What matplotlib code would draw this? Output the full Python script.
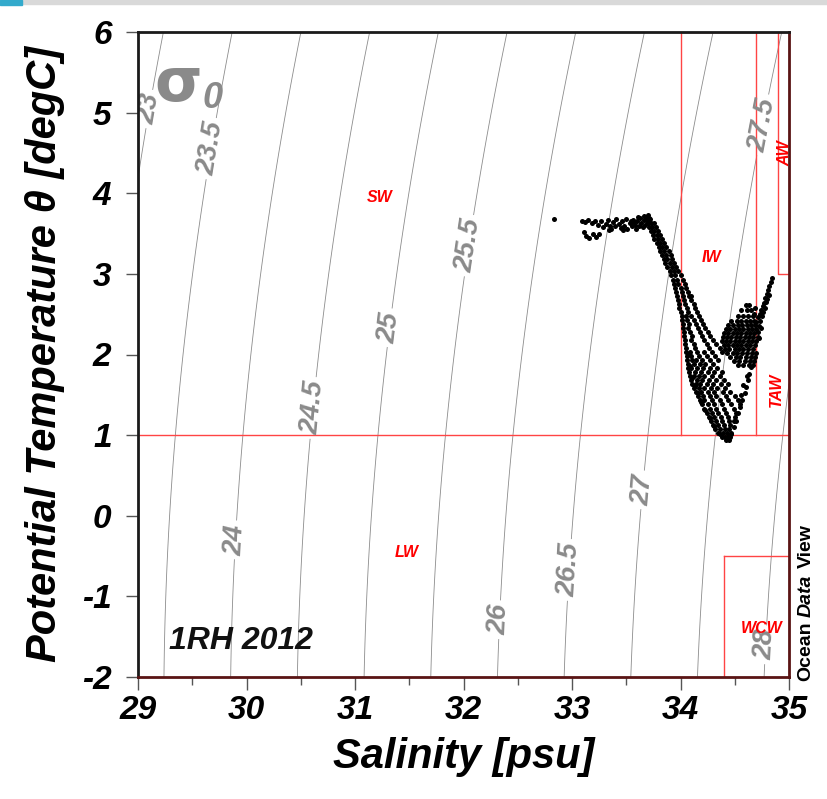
import numpy as np
import matplotlib
matplotlib.use('Agg')
import matplotlib.pyplot as plt
from matplotlib.patches import Rectangle

FONT = ['Liberation Sans', 'DejaVu Sans']
GRAY = '#8a8a8a'
RED = '#ff4444'

# contour levels of sigma-0 and where their labels sit (S, T)
SIGMA_LEVELS = [23.0, 23.5, 24.0, 24.5, 25.0, 25.5, 26.0, 26.5, 27.0, 27.5, 28.0]
LABEL_POS = [
    (29.08, 5.05), (29.69, 4.55), (29.91, -0.30), (30.59, 1.34),
    (31.33, 2.33), (32.00, 3.36), (32.34, -1.29), (32.95, -0.67),
    (33.66, 0.32), (34.75, 4.85), (34.78, -1.60),
]

# water mass boundaries
WATER_MASS_NAMES = ['SW', 'IW', 'AW', 'TAW', 'LW', 'WCW']
WATER_MASS_POS = [(31.23, 3.95), (34.29, 3.20), (34.96, 4.50),
                  (34.88, 1.56), (31.48, -0.45), (34.75, -1.40)]
WATER_MASS_ROT = [0, 0, 90, 90, 0, 0]

# CTD samples, grouped by part of the profile
surface_pts = [
    (32.83, 3.68), (33.09, 3.66), (33.12, 3.64), (33.15, 3.67), (33.18, 3.63),
    (33.21, 3.66), (33.13, 3.47), (33.16, 3.44), (33.19, 3.50), (33.22, 3.46),
    (33.11, 3.52), (33.25, 3.49), (33.24, 3.61), (33.27, 3.65), (33.29, 3.58),
    (33.31, 3.62), (33.33, 3.67), (33.35, 3.60), (33.36, 3.56), (33.38, 3.64),
    (33.40, 3.59), (33.41, 3.68), (33.43, 3.62), (33.45, 3.57), (33.46, 3.65),
    (33.48, 3.60), (33.50, 3.68), (33.51, 3.56), (33.53, 3.63), (33.55, 3.59),
    (33.56, 3.67), (33.58, 3.61), (33.59, 3.56), (33.60, 3.65), (33.62, 3.60),
    (33.63, 3.69), (33.64, 3.63), (33.66, 3.67), (33.67, 3.61), (33.68, 3.71),
    (33.69, 3.65), (33.70, 3.73), (33.71, 3.69), (33.66, 3.72), (33.61, 3.70),
    (33.54, 3.66), (33.47, 3.55), (33.34, 3.54), (33.57, 3.64), (33.65, 3.58),
]

band_temp = [3.68, 3.63, 3.58, 3.53, 3.48, 3.43, 3.38, 3.33, 3.28, 3.23, 3.18,
             3.13, 3.08, 3.03, 2.98, 2.93, 2.88, 2.83, 2.78, 2.73, 2.68, 2.63,
             2.58, 2.53, 2.48, 2.43, 2.38, 2.33, 2.28, 2.23, 2.18, 2.13, 2.08]
band_sal = [
    [33.69, 33.72], [33.70, 33.73, 33.76], [33.71, 33.74, 33.77],
    [33.73, 33.76, 33.79], [33.75, 33.78, 33.81], [33.76, 33.79, 33.83],
    [33.78, 33.81, 33.85], [33.80, 33.83, 33.87], [33.81, 33.85, 33.89],
    [33.83, 33.87, 33.91], [33.85, 33.88, 33.92], [33.86, 33.90, 33.94],
    [33.88, 33.92, 33.96], [33.90, 33.94, 33.98], [33.91, 33.95, 34.00],
    [33.93, 33.97, 34.02], [33.94, 33.98, 34.04], [33.95, 34.00, 34.05],
    [33.96, 34.01, 34.07], [33.97, 34.02, 34.08, 34.10], [33.98, 34.03, 34.10],
    [33.99, 34.04, 34.12], [33.99, 34.06, 34.13], [34.00, 34.07, 34.15],
    [34.01, 34.05, 34.10, 34.17], [34.01, 34.06, 34.12, 34.19],
    [34.02, 34.08, 34.14, 34.21], [34.02, 34.07, 34.16, 34.23],
    [34.03, 34.09, 34.18, 34.25], [34.03, 34.11, 34.20, 34.27],
    [34.04, 34.10, 34.22, 34.30], [34.04, 34.12, 34.24, 34.33],
    [34.05, 34.13, 34.26, 34.36],
]

vee_temp = [2.03, 1.98, 1.93, 1.88, 1.83, 1.78, 1.73, 1.68, 1.63, 1.58, 1.53,
            1.48, 1.43, 1.38, 1.33, 1.28, 1.23, 1.18, 1.13, 1.08, 1.03, 0.98, 0.94]
vee_sal = [
    [34.05, 34.09, 34.15, 34.22, 34.29, 34.38],
    [34.06, 34.10, 34.17, 34.24, 34.32],
    [34.06, 34.11, 34.14, 34.20, 34.27, 34.35],
    [34.07, 34.12, 34.18, 34.23, 34.30],
    [34.07, 34.10, 34.15, 34.21, 34.27, 34.34],
    [34.08, 34.13, 34.19, 34.25, 34.31, 34.38],
    [34.09, 34.12, 34.17, 34.22, 34.29, 34.36],
    [34.10, 34.15, 34.20, 34.26, 34.33, 34.40],
    [34.11, 34.14, 34.18, 34.24, 34.30, 34.37, 34.44],
    [34.12, 34.17, 34.22, 34.28, 34.34, 34.41],
    [34.14, 34.19, 34.25, 34.31, 34.39, 34.46],
    [34.16, 34.21, 34.27, 34.33, 34.42, 34.50],
    [34.18, 34.22, 34.29, 34.36, 34.44, 34.53],
    [34.20, 34.25, 34.31, 34.38, 34.47, 34.55],
    [34.22, 34.27, 34.33, 34.40, 34.49],
    [34.24, 34.29, 34.35, 34.42, 34.51],
    [34.26, 34.31, 34.37, 34.44, 34.50],
    [34.28, 34.33, 34.38, 34.45, 34.49],
    [34.30, 34.35, 34.40, 34.46],
    [34.32, 34.36, 34.41, 34.45],
    [34.35, 34.39, 34.43, 34.47],
    [34.38, 34.41, 34.44, 34.46],
    [34.42, 34.45],
]

vee_edge_pts = [
    (34.47, 1.02), (34.49, 1.10), (34.51, 1.18), (34.53, 1.27), (34.55, 1.35),
    (34.57, 1.44), (34.59, 1.52), (34.60, 1.60), (34.62, 1.68), (34.63, 1.76),
    (34.65, 1.84), (34.58, 1.62), (34.56, 1.50), (34.61, 1.73), (34.43, 0.97),
    (34.07, 2.01), (34.09, 1.86), (34.11, 1.71), (34.13, 1.61), (34.16, 1.52),
    (34.19, 1.41), (34.23, 1.31), (34.27, 1.21), (34.31, 1.11), (34.36, 1.01),
]

cluster_temp = [2.62, 2.55, 2.48, 2.42, 2.37, 2.32, 2.27, 2.22, 2.17, 2.12,
                2.07, 2.02, 1.97, 1.92, 1.87]
cluster_sal = [
    [34.60, 34.63],
    [34.56, 34.61, 34.65],
    [34.53, 34.58, 34.62, 34.67],
    [34.47, 34.52, 34.56, 34.60, 34.64, 34.68],
    [34.44, 34.48, 34.53, 34.57, 34.61, 34.65, 34.69],
    [34.42, 34.46, 34.50, 34.54, 34.58, 34.62, 34.66, 34.70],
    [34.40, 34.44, 34.48, 34.52, 34.56, 34.60, 34.64, 34.68],
    [34.39, 34.43, 34.47, 34.51, 34.55, 34.59, 34.63, 34.67, 34.71],
    [34.38, 34.42, 34.46, 34.50, 34.54, 34.58, 34.62, 34.66, 34.70],
    [34.40, 34.44, 34.48, 34.52, 34.56, 34.60, 34.64, 34.69],
    [34.41, 34.45, 34.50, 34.54, 34.58, 34.62, 34.67],
    [34.43, 34.48, 34.52, 34.57, 34.61, 34.66, 34.70],
    [34.46, 34.51, 34.55, 34.60, 34.65, 34.69],
    [34.49, 34.54, 34.59, 34.64, 34.68],
    [34.53, 34.58, 34.63, 34.67],
]

tail_pts = [
    (34.70, 2.40), (34.71, 2.46), (34.72, 2.35), (34.73, 2.50), (34.73, 2.42),
    (34.74, 2.55), (34.75, 2.48), (34.76, 2.60), (34.76, 2.53), (34.77, 2.64),
    (34.78, 2.58), (34.78, 2.70), (34.79, 2.65), (34.80, 2.75), (34.80, 2.69),
    (34.81, 2.80), (34.82, 2.74), (34.82, 2.85), (34.83, 2.90), (34.84, 2.95),
    (34.71, 2.28), (34.72, 2.20), (34.74, 2.33), (34.68, 2.50), (34.69, 2.58),
]


def sigma0(s, t):
    # UNESCO 1981 equation of state at surface pressure
    rho_w = (999.842594 + 6.793952e-2 * t - 9.095290e-3 * t ** 2
             + 1.001685e-4 * t ** 3 - 1.120083e-6 * t ** 4 + 6.536332e-9 * t ** 5)
    a = (8.24493e-1 - 4.0899e-3 * t + 7.6438e-5 * t ** 2
         - 8.2467e-7 * t ** 3 + 5.3875e-9 * t ** 4)
    b = -5.72466e-3 + 1.0227e-4 * t - 1.6546e-6 * t ** 2
    c = 4.8314e-4
    return rho_w + a * s + b * s ** 1.5 + c * s ** 2 - 1000.0


def rows_to_points(temps, sals):
    pts = []
    for t, row in zip(temps, sals):
        for s in row:
            pts.append((s, t))
    return pts


plt.rcParams['font.family'] = FONT
plt.rcParams['axes.unicode_minus'] = False

fig = plt.figure(figsize=(8.27, 7.99), dpi=100)
ax = fig.add_axes([138 / 827, 1 - 677 / 799, 651 / 827, 645 / 799])

# density background
S, T = np.meshgrid(np.linspace(29, 35, 300), np.linspace(-2, 6, 300))
cs = ax.contour(S, T, sigma0(S, T), levels=SIGMA_LEVELS,
                colors='#8c8c8c', linewidths=0.6, zorder=1)
labels = ax.clabel(cs, manual=LABEL_POS, inline=True, inline_spacing=4,
                   fmt=lambda v: '{:g}'.format(v), fontsize=20, colors=GRAY)
for lab in labels:
    lab.set_fontweight('bold')
    lab.set_fontstyle('italic')

# water mass boxes
box_kw = dict(color=RED, linewidth=1.0, zorder=2)
ax.plot([29, 35], [1, 1], **box_kw)
ax.plot([34, 34], [1, 6], **box_kw)
ax.plot([34.7, 34.7], [1, 6], **box_kw)
ax.plot([34, 35], [6, 6], **box_kw)
ax.plot([34.9, 34.9, 35], [6, 3, 3], **box_kw)
ax.plot([34.4, 34.4], [-2, -0.5], **box_kw)
ax.plot([34.4, 35], [-0.5, -0.5], **box_kw)

for name, (s, t), rot in zip(WATER_MASS_NAMES, WATER_MASS_POS, WATER_MASS_ROT):
    ax.text(s, t, name, color='red', fontsize=11.5, fontweight='bold',
            fontstyle='italic', ha='center', va='center', rotation=rot, zorder=3)

# samples
pts = (surface_pts + rows_to_points(band_temp, band_sal)
       + rows_to_points(vee_temp, vee_sal) + vee_edge_pts
       + rows_to_points(cluster_temp, cluster_sal) + tail_pts)
pts = np.array(pts)
ax.scatter(pts[:, 0], pts[:, 1], s=13, c='black', linewidths=0, zorder=4)

ax.set_xlim(29, 35)
ax.set_ylim(-2, 6)
ax.set_xticks(np.arange(29, 36, 1))
ax.set_xticks(np.arange(29.5, 35, 1), minor=True)
ax.set_yticks(np.arange(-2, 7, 1))

ax.tick_params(axis='both', which='major', direction='out', length=9,
               width=1.0, color='#555555', labelsize=24)
ax.tick_params(axis='x', which='minor', direction='out', length=6,
               width=1.0, color='#555555')
ax.tick_params(axis='x', which='major', pad=4)
ax.tick_params(axis='y', which='major', pad=10)
for lab in ax.get_xticklabels() + ax.get_yticklabels():
    lab.set_fontweight('bold')
    lab.set_fontstyle('italic')

for side in ('left', 'top'):
    ax.spines[side].set_color('#1a1a1a')
for side in ('right', 'bottom'):
    ax.spines[side].set_color('#5a1414')
for sp in ax.spines.values():
    sp.set_linewidth(2.0)
    sp.set_zorder(5)

ax.set_xlabel('Salinity [psu]', fontsize=30, fontweight='bold',
              fontstyle='italic', labelpad=8)
ax.set_ylabel('Potential Temperature θ [degC]', fontsize=30, fontweight='bold',
              fontstyle='italic', labelpad=12)

# sigma-0 marker
ax.text(29.15, 5.35, 'σ', fontsize=44, fontweight='bold', color=GRAY,
        ha='left', va='center', family='DejaVu Sans')
ax.text(29.59, 5.18, '0', fontsize=26, fontweight='bold', fontstyle='italic',
        color=GRAY, ha='left', va='center')

ax.text(29.29, -1.55, '1RH 2012', fontsize=23, fontweight='bold',
        fontstyle='italic', ha='left', va='center', color='#111111')

# ODV credit along the right edge
y0 = 1 - 681 / 799
x0 = 806 / 827
fig.text(x0, y0, 'Ocean', rotation=90, fontsize=14, fontweight='bold',
         ha='center', va='bottom')
fig.text(x0, y0 + 64 / 799, 'Data', rotation=90, fontsize=14,
         fontweight='bold', fontstyle='italic', ha='center', va='bottom')
fig.text(x0, y0 + 113 / 799, 'View', rotation=90, fontsize=14,
         fontweight='bold', ha='center', va='bottom')

# thin banner strip across the top
fig.patches.append(Rectangle((0, 1 - 4 / 799), 1, 4 / 799, transform=fig.transFigure,
                             color='#d9d9d9', zorder=0))
fig.patches.append(Rectangle((0, 1 - 5 / 799), 22 / 827, 5 / 799,
                             transform=fig.transFigure, color='#33aacc', zorder=0))

fig.savefig('out.png', dpi=100)
